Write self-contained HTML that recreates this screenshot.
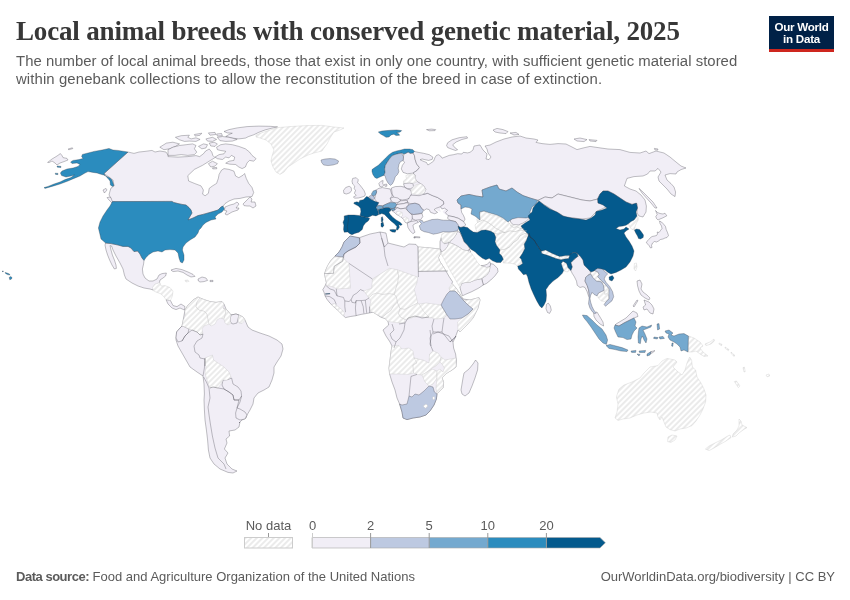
<!DOCTYPE html>
<html lang="en">
<head>
<meta charset="utf-8">
<title>Local animal breeds with conserved genetic material, 2025</title>
<style>
html,body{margin:0;padding:0;background:#fff;}
body{width:850px;height:600px;position:relative;overflow:hidden;font-family:"Liberation Sans",sans-serif;}
#title{position:absolute;left:16px;top:16px;font-family:"Liberation Serif",serif;font-weight:bold;font-size:27px;line-height:30px;color:#373737;white-space:nowrap;letter-spacing:-0.16px;}
#subtitle{position:absolute;left:16px;top:52.3px;font-size:14.9px;line-height:18px;color:#5b5b5b;white-space:nowrap;}
#logo{position:absolute;left:769px;top:16px;width:65px;height:33px;background:#002147;border-bottom:3px solid #ce261e;color:#fff;font-weight:bold;font-size:11.6px;line-height:12px;text-align:center;letter-spacing:-0.25px;}
#logo span{display:block;}
#footer-l{position:absolute;left:16px;top:569px;font-size:13px;line-height:16px;color:#5b5b5b;white-space:nowrap;}
#footer-r{position:absolute;right:15px;top:569px;font-size:13px;line-height:16px;color:#5b5b5b;white-space:nowrap;}
svg{position:absolute;left:0;top:0;}
svg text{font-family:"Liberation Sans",sans-serif;}
</style>
</head>
<body>
<div id="title">Local animal breeds with conserved genetic material, 2025</div>
<div id="subtitle"><span style="letter-spacing:0.03px">The number of local animal breeds, those that exist in only one country, with sufficient genetic material stored</span><br><span style="letter-spacing:0.11px">within genebank collections to allow the reconstitution of the breed in case of extinction.</span></div>
<div id="logo"><span style="margin-top:4.5px">Our World</span><span>in Data</span></div>
<svg id="map" width="850" height="600" viewBox="0 0 850 600">
<defs>
<pattern id="hatch" patternUnits="userSpaceOnUse" width="4" height="4" patternTransform="rotate(45)">
<rect width="4" height="4" fill="#fff"/>
<rect x="1" y="0" width="2" height="4" fill="#ebebeb"/>
</pattern>
</defs>
<g id="land" stroke="#30303a" stroke-opacity="0.6" stroke-width="0.5" stroke-linejoin="round">
<path d="M372.5,195.4 378.2,188.3 392.3,188.3 406.5,185.5 415,177 429.2,177 450,181.2 450,219.5 429.2,213.8 422.1,220.9 415,223.7 409.3,226.6 403.7,219.5 396.6,213.8 390.9,209.6 378.2,206.7Z" fill="#f1eef6" stroke="none"/>
<path d="M419.2,220.8 418.7,216.7 420.8,212.5 424.2,209.7 430,208.3 434.2,208 436.7,210.3 440.8,212 440,209.2 440.8,206.3 445,205 447.5,206.7 445,209.2 442.5,211.7 445,214.2 448.7,216.2 450.3,220.3 443.3,220.7 436.7,219.8 430,219.5 423.3,220.7 420,223Z" fill="#fff" stroke="none"/>
<path d="M529.2,233.3 526.6,240 532.6,242.8 537,245 541.1,251.3 543.9,249.9 539,241.4 534,235 530.5,231.5Z" fill="#045a8d" stroke="none"/>
<path d="M47.6,162.4 52,159 57,156 60.4,153.6 62,155.6 63,157.6 67,158.4 68,160 64,161.6 60,163 57,165 55,163 52,161 49,162.6Z" fill="#f1eef6"/>
<path d="M68,149 72.4,147.8 72.8,148.6 68.8,149.8Z" fill="#f1eef6"/>
<path d="M107,197.6 110,197 114,201 115,204 112,203 109,200Z" fill="#f1eef6"/>
<path d="M103,190 106,188.4 107,190 104.4,193Z" fill="#f1eef6"/>
<path d="M105.6,243 111,243.6 118,245 123,246.4 128,246.4 131,248 134,251.6 137.6,251 140,254 142,258 144,260.4 143.6,264 142.4,269 143,274 145,278 149,281 153,281 157,279 159,275 162,273.6 166.4,273 165.6,276 163,278 160,280 159,284 157,284 155,286 153,290 150,289 144,288 138,286 132,283 126,279 124.4,275 123,269 120,263 116,256 113,250 111.6,246 110,245.6 111,250 112.4,255 114.4,260 116,265 116.4,268.4 114.4,269 112,265 109.6,260 107.6,255 106,250 105,245Z" fill="#f1eef6"/>
<path d="M171,270 176,268.4 182,269.6 188,272 193,274.4 195,276.4 191,277 187,275 183,272.4 178,271 173,271.6Z" fill="#f1eef6"/>
<path d="M198,279 202,277 206,278 207.6,280.4 204,281.6 200,282 198.4,281Z" fill="#f1eef6"/>
<path d="M210,280.4 213,280.4 213,281.6 210,281.6Z" fill="#f1eef6"/>
<path d="M166,299.6 170.4,300.4 173,305.6 177,306.6 181,304 185,306.6 184.4,310 180,308 176,309.6 172,308 168,304Z" fill="#f1eef6"/>
<path d="M185,310 188,305 193,300 198,297 200,298 204,299.6 210,301.6 216,302.4 222,301.6 224,304 226,309 229,312.4 231,315 236,314 239,315 243,317 245,320 248,327 252,330 260,333 269,336 277,340 282,344 283,349 281,356 277,362 274,367 274,373 272,380 269,387 264,390 258,393 254,398 253,404 250,410 247,415 246,418 242,420 239,423 240,422 239,427 235,430 229,431 229.6,436 226,439 227,443 224.4,449 228,453 225,458 227,464 232,469 237,471 233,473 228,472.4 220,469 214,464 210,458 208.4,450 207.6,440 206.4,430 205,420 204.4,410 204,400 204.4,394 204,384 203,376 197,372 190,367 186,360 182,353 178,346 176,340 176,338 176.6,332 180,328 182,326 183,321Z" fill="#f1eef6"/>
<path d="M231,315 236,314 239,315 238,319 237,323 233,324 231,323 230,320Z" fill="#f1eef6"/>
<path d="M176.6,332 180,328 182,326 185,327 189,329 188,333 185,336 182,341 178,342 176,338Z" fill="#f1eef6"/>
<path d="M223,380 228,379.6 231.6,378 233,384 238,387 241,391 241.6,396 239,400 234,400 233,395 229,392 224,389 222,385Z" fill="#f1eef6"/>
<path d="M237,408 240,409 245,412 247,415 245,419 240,420 236,418 235.6,413Z" fill="#f1eef6"/>
<path d="M128,152 134,153.4 139,152 145,151.4 152,150.4 155,152 160,151 166,152 168,155 168,156.6 177.9,157.1 187.8,156.6 196,155.6 199.6,156.6 203.4,153.8 205.6,151 209.2,149 211.8,152.1 212.8,155.4 215,157.6 209.2,161.2 202.6,165.3 194.4,169.4 187.8,175.7 188.6,181 194.4,183.4 201,185.9 203.4,190 202.6,194.1 205.1,195.8 208.4,193.3 209.2,188.4 212.5,185.9 216.6,183.4 218.3,178.5 219.1,174.4 221.5,170.2 224,168.6 229,169.4 233.9,171.1 235.6,176 238.8,177.7 243,175.2 244.6,173.5 246.3,178.5 248.7,183.4 252,187.5 253.7,192.5 252,196.6 246,197 240,198.4 234,199 229,201 225,203.6 223,206.4 221,207 218,210 213,211.6 208,213 203,214.4 198,215.6 193,218 188,220 189,218 192,213 191,210 189,207.6 186,205 182,204.4 178,203.6 173.6,202.4 172,201.4 112.4,201.6 111,198 109,195 110,191 111,188 114,186 113,180 109,177 104,173.6Z" fill="#f1eef6"/>
<path d="M225,207 230,205 234,204 237,202 239,204 236,208 239,208 238,210 232,212 227,215 225,214 227,211 224.4,210.4Z" fill="#f1eef6"/>
<path d="M243,204 247,200 250,197 252,199 251,202 255,202 256,206 253,208 250,206 247,206 244,205.6Z" fill="#f1eef6"/>
<path d="M216.6,147.2 220.7,144.7 225.7,143.9 232.3,144.7 238.8,146.4 245.4,148.8 249.6,152.1 252,155.4 256.1,158.7 253.7,161.2 249.6,160.4 247.1,162.8 245.4,167 242.1,168.6 238.8,167 235.6,164.5 229.8,164.2 225.7,163.2 229,161.2 233.9,160.4 234.7,157.1 231.4,155.4 229,157.9 225.7,157.1 222.4,159.5 217.4,158.7 215,157.1 219.1,154.6 224,153.8 225.7,151.3 220.7,150.5 217.4,149.7Z" fill="#f1eef6"/>
<path d="M224,131.5 229,129.6 237.2,127.9 247.1,126.6 258.6,126.1 270.1,126.3 277.6,126.9 271.8,128.2 265.2,129.9 258.6,132.4 253.7,134.8 248.7,136.5 245.4,138.1 238.8,138.9 232.3,138.1 225.7,136.5 229,134.5 232.3,133.2 227.3,132.9Z" fill="#f1eef6"/>
<path d="M159.8,147.2 166.4,143.1 172.9,142.2 179.5,143.9 175.4,146.4 169.7,148.8 163.9,149.7Z" fill="#f1eef6"/>
<path d="M168,149.7 172.9,147.2 179.5,145.5 186.1,144.7 192.7,143.9 196,145.5 194.4,148.8 196.8,152.1 194.4,154.6 187.8,155.4 181.2,154.6 174.6,155.4 168,155.4Z" fill="#f1eef6"/>
<path d="M198.5,146.4 203.4,143.9 207.5,144.7 205.9,148 201.8,148.8Z" fill="#f1eef6"/>
<path d="M217.4,137.3 222.4,136.5 229,137.3 237.2,139.4 232.3,141.1 225.7,141.4 219.9,140.6Z" fill="#f1eef6"/>
<path d="M175.4,137.3 181.2,135.7 189.4,135.2 187.8,137.3 191.1,138.9 196,137.8 200.1,139.4 196,141.4 189.4,141.1 184.5,141.4 179.5,139.8Z" fill="#f1eef6"/>
<path d="M194.4,134.5 201.8,133.2 200.1,135.2 195.2,136.1Z" fill="#f1eef6"/>
<path d="M208.4,132.9 215,132.4 215.8,134.5 210,135.2Z" fill="#f1eef6"/>
<path d="M216.6,134 221.5,133.5 222.4,135.7 217.4,136.1Z" fill="#f1eef6"/>
<path d="M205.9,138.9 212.5,137.3 216.6,139.4 212.5,141.4 207.5,141.1Z" fill="#f1eef6"/>
<path d="M209.2,143.1 214.1,142.2 217.4,143.9 215,146.4 210.8,146Z" fill="#f1eef6"/>
<path d="M208.4,163.7 212.5,161.2 217.4,163.7 215,166.1 210.8,167Z" fill="#f1eef6"/>
<path d="M212.5,167.8 216.6,167.4 216.8,168.8 212.8,168.9Z" fill="#f1eef6"/>
<path d="M376,190 378.9,188.3 382.4,187.6 385.9,188.3 390.2,189 391.2,192.6 392.3,196.1 390.2,198.2 391.6,201.1 389.5,202.5 386.7,203.9 383.1,205.6 378.9,205.6 376,206.7 377.5,202.5 374.6,199 375.6,194.7 376.7,191.9Z" fill="#f1eef6"/>
<path d="M352.7,178.4 356.2,177.7 358.3,179.8 357.6,182.7 359.7,184.8 361.9,187.6 364,190.5 365.4,194 364.7,196.1 361.9,197.1 358.3,198 354.8,198.2 353.4,197.1 356.2,195.4 354.4,193.3 355.5,190.5 354.1,188.3 354.8,186.2 352.7,184.1 352,181.2Z" fill="#f1eef6"/>
<path d="M343.5,190.5 345.6,187.6 349.1,186.2 351.2,187.6 351.5,190.5 349.8,192.9 346.3,194 343.9,193.3Z" fill="#f1eef6"/>
<path d="M378.9,183.4 381,181.2 383.1,180.5 382.7,183.4 383.8,185.5 381.7,186.9 379.6,186.2Z" fill="#f1eef6"/>
<path d="M384.5,184.4 386.7,184.1 386.9,186.2 385,186.3Z" fill="#f1eef6"/>
<path d="M403.5,156.8 403.8,154 405.9,153.3 408.1,151.9 410.2,153.3 413,152.9 414.4,155.4 415.2,159.7 416.6,163.9 419.4,167.5 417.3,170.3 413,173.1 407.4,173.8 403.1,172.4 401.3,168.9 402.4,165.3 404.5,162.5 403.1,160.4Z" fill="#f1eef6"/>
<path d="M426.5,129.6 431.4,129.1 435.7,129.6 435,130.6 429.3,130.8Z" fill="#f1eef6"/>
<path d="M447.7,142.7 452,139.8 459.1,137.7 466.9,136.7 467.6,138.1 461.9,139.5 456.2,142 452.7,144.8 454.8,147.6 457.6,149.7 455.5,150.5 451.3,149 447.7,147.6 446.6,145.5Z" fill="#f1eef6"/>
<path d="M403.5,183.7 405.9,183.3 409.5,183 413,183.7 413.5,186.6 410.9,188.7 407.4,188.7 404.5,186.9Z" fill="#f1eef6"/>
<path d="M391.4,188 395.3,186.6 401,186.3 404.5,187.3 407.4,189 410.9,190.1 411.6,193.7 410.2,197.9 406.7,199.3 402.4,200 398.2,199.3 393.9,197.9 392.2,193.7Z" fill="#f1eef6"/>
<path d="M390.2,198.2 393.7,197.1 398,198 400.8,200.4 398,202.5 394.4,202.8 391.6,201.4Z" fill="#f1eef6"/>
<path d="M398,202.5 400.8,200.8 406.5,200.4 407.9,201.8 403.7,203.6 399.4,204.2 396.6,204.6Z" fill="#f1eef6"/>
<path d="M396.6,204.6 399.4,204.2 403.7,203.6 407.9,202.5 408.6,205.3 405.1,208.2 400.8,208.9 397.3,207.5 395.2,207.5Z" fill="#f1eef6"/>
<path d="M411.4,214.5 417.8,214.1 422.1,213.5 422.8,216.7 420.7,219.5 415.7,220.2 412.2,218.8Z" fill="#f1eef6"/>
<path d="M408.6,199 410.7,195.1 415,195.4 419.2,195.7 423.5,194.3 427.7,193.3 432,195.4 437.6,197.5 443.3,201.1 444,203.9 440.5,206.7 436.2,208.2 434.1,209.6 437.6,212.4 434.8,213.8 430.6,212.4 429.2,209.6 426.3,208.9 424.2,210.3 421.4,208.2 419.2,204.6 415,203.2 410.7,203.9 407.9,202.5 407.2,200.4Z" fill="#f1eef6"/>
<path d="M392,210.7 394.9,209.9 397.3,207.9 400.8,208.9 405.1,208.2 407.2,210.3 410,213.1 412.2,215.2 412.2,218.8 410.7,221.6 407.2,223 405.1,222.3 403.7,219.5 401.5,217.4 399.4,215.9 396.6,214.5 394.4,212.4Z" fill="#f1eef6"/>
<path d="M407.2,223 410.7,221.6 416.4,220.6 418.5,222.3 415,223.7 412.9,225.2 413.6,228.7 415,232.2 412.9,233.7 410,230.8 407.9,227.3Z" fill="#f1eef6"/>
<path d="M414.3,236.5 419.9,236.9 419.8,237.8 414.6,237.5Z" fill="#f1eef6"/>
<path d="M413.6,237.6 415,237.3 415,238.2Z" fill="#f1eef6"/>
<path d="M414.4,151.4 418,152.3 423.7,153.3 429.3,154.7 432.9,157.1 432.2,159.4 428.6,160.4 425.1,159.7 422.2,159 420.1,159.7 422.9,161.1 426.5,162.5 427.9,165 430.7,163.2 433.6,161.1 435,157.5 436.4,155.4 438.5,154.7 440.7,156.1 442.1,158.2 444.9,157.1 449.2,155.4 453.4,154.7 457.6,153.7 461.9,154 463.3,152.3 467.6,152.9 470,152.3 473,150 474,146 480,145 483,150 487,154 486,159 489,159.6 491,157 488,153 487,149 485,146 490,145 496,142 504,139 512,137 520,136 526,138 534,139 538,140 536,142.4 542,143.6 550,144.4 558,143.6 566,144 572,147 577,149.6 583,148 590,146.4 598,147.6 608,149 620,149.6 630,152.4 640,153 646,151 649,153.6 656,151 664,153 670,157 676,162 681,166 686,168 681,169.6 677,172 676,174 670,173.6 665,175 667,180 671,183.6 674,187 675.6,192 675,196.6 671,194 667,189 663,185 659,181 658,177 661,172 658,168.4 655,171 650,171 647.6,174 643,176 634,176.6 627,178.4 624.4,186 630,189 636,191 641,195 645,200 646.4,206 646,212 643,217 639,216 637,213 637,209 637,203.6 632,204.4 626,202 620,198 614,194 608,191 603,191 600,194 597.6,199 590,201 582,200 574,198 566,196 558,194 552,198 545,197 538,200.4 530,198 523,195.6 517,192 512,188 506,191 499,189 497,185 490,187 482,190 483,197 476,196 469,194.4 461,196 457,200 458,203 461,205 461,209 461.7,212.5 463.7,215.8 465,219.2 463.7,221.7 458.3,218.3 453.3,216.7 448.3,215.8 445.4,212.7 447.6,210.3 444.7,208.2 441.9,208.9 440.5,206.7 444,203.9 443.3,201.1 437.6,197.5 432,195.4 427.7,193.3 423.5,194.3 425.8,189.4 423.7,185.9 420.8,183.7 417.3,181.6 414.9,178.4 415.2,175 413,173.1 417.3,170.3 419.4,167.5 416.6,163.9 415.2,159.7 414.4,155.4 413,152.9Z" fill="#f1eef6"/>
<path d="M493,130 497,128.4 503,129.6 508,131.6 506,133.6 500,133 495,132Z" fill="#f1eef6"/>
<path d="M510,133 516,132.4 519,134.4 514,135Z" fill="#f1eef6"/>
<path d="M574,139 580,138 587,139.6 584,141.6 577,141Z" fill="#f1eef6"/>
<path d="M589,139.6 597,140.4 596,141.6 590,141Z" fill="#f1eef6"/>
<path d="M654.4,148.4 658,149 657.6,150.2 654.8,149.8Z" fill="#f1eef6"/>
<path d="M639,188.4 643,192 648,197 653,202 657,208 655,208 651,203 646.4,198 642,193Z" fill="#f1eef6"/>
<path d="M538,200.4 545,197 552,198 558,194 566,196 574,198 582,200 590,201 598,199 598,203 603,204 607,206.4 602,209 597,211 594,214 590,218 582,219 574,218 566,217.6 560,214 554,211 548,207 543,204Z" fill="#f1eef6"/>
<path d="M659.5,221 661.5,222 663.5,224 665.5,226.5 666.2,229.5 667.5,232.5 668.5,235.5 667,237.5 665,238 663,239 660.5,239.5 658.5,241 656.5,242 654.5,241.5 652.5,243 651.5,245.5 652,247.5 650.5,248 649,245.5 647.5,244 646.2,242.2 648,240.5 650,238 652,236.5 654.5,236 656.5,235.5 657.5,234 657.2,232 659,232.5 660.5,230.5 662,228.5 661.5,226 660,223.5Z" fill="#f1eef6"/>
<path d="M655.5,210.5 657.5,212.5 660,213.5 663,214 665,213.2 666.8,215.8 664.5,217 662.5,218 660,219 658,220 656.5,218.5 655.8,216.5 657.2,214.5Z" fill="#f1eef6"/>
<path d="M546.5,304.4 548.2,303 550.3,305.9 551.3,310.1 549.6,313.4 547.5,312.5 546,308.7Z" fill="#f1eef6"/>
<path d="M570.8,270.5 572.2,266.9 570.8,262.7 574.4,259.1 577.9,256.3 580.7,254.9 582.9,258.4 583.6,262.7 586.4,266.2 589.9,270.5 590.7,273.3 587.8,275.4 585.7,277.5 585,281.1 587.1,285.3 588.5,289.6 589.2,293.8 589.9,298.1 588.5,295.9 587.1,291.7 585,287.5 582.9,286.7 580,287.5 577.2,285.3 576.5,281.1 574.4,276.8 572.2,273.3Z" fill="#f1eef6"/>
<path d="M510,219.7 515,217 520,216.2 526.7,216.2 530,217.5 526.7,220.8 522.5,223.3 518.3,225 513.3,224.7 510.8,222.5Z" fill="#f1eef6"/>
<path d="M448.3,215.8 453.3,216.7 458.3,218.3 463.7,221.7 465.8,225 463.7,226.7 460.8,227.5 458,226.3 455.8,221.7 450,220.3 447.5,218.3Z" fill="#f1eef6"/>
<path d="M457.5,231.3 460,232.5 462.5,237.5 464.2,241.7 467.5,245 470,249.2 467.5,250.8 463.3,250 458.3,246.7 453.3,244.2 449.2,242.5 453.3,238.3 455.8,235Z" fill="#f1eef6"/>
<path d="M440,241.7 441.3,237.5 441.7,240.8 444.2,243.7 449.2,242.5 447.5,246.7 445,250 441.7,252 440,248.3Z" fill="#f1eef6"/>
<path d="M467.5,250.8 469.7,249.7 470.8,252 469.2,253Z" fill="#f1eef6"/>
<path d="M480.8,265.8 484.2,265.3 487.5,264.2 489.7,261.7 490.8,264.2 490,266.7 486.7,267.5Z" fill="#f1eef6"/>
<path d="M490,266.7 490.8,263.7 493.3,264.2 497.5,268.3 498,271.7 495,275.8 490.8,280 486.7,283.3 483.3,285 481.7,278.7 486.7,275 489.2,271.7Z" fill="#f1eef6"/>
<path d="M461.7,283.3 465,282.5 469.2,282.5 475,280 481.7,278.7 483.3,285 478.3,288.3 471.7,291.7 465.8,294.2 462.5,295.8 460.8,290.8 460,287.5Z" fill="#f1eef6"/>
<path d="M651,351.6 655,350.6 653,352.4 650.4,354Z" fill="#f1eef6"/>
<path d="M616,324 621,321 626,318 630,314 633,311 637,313 638,316.4 634,318 630,320 624,323 619,326 615,325Z" fill="#f1eef6"/>
<path d="M593.6,313 597,312 600,317 603,322 603.6,326 600,324 596,320 594,316.4Z" fill="#f1eef6"/>
<path d="M637,281 640,280 642,284 641,289 643,292 647,295 650,298 649,300 645,298 641,295 639,291 637.6,286Z" fill="#f1eef6"/>
<path d="M644,300 649,302 652,305 654,309 653,314 650,313 647,309 644,310 643,307 645.6,305Z" fill="#f1eef6"/>
<path d="M633,306 637,300 638,300.6 634,307Z" fill="#f1eef6"/>
<path d="M334.2,257 339,252 342,247 344,242 347,239 350,236 355,237 359.6,237.6 370,234 380,232 386,233 387,238 388,243 396,245 404,247 409,244 416,244.4 418,247 426,247.6 434,248.4 439.6,249 440,250 440.8,253.3 438.3,257.5 440,261.7 443.3,266.7 445.8,270.8 449.2,276.7 452.5,281.7 452,283.6 456,288 460,294 463,299 470,300 479,297.6 480,300 478,308 473,318 466,326 460,332 458,330 455,338 450,342 456,336 453,342 453.6,348 455.6,354 456.4,360 456,367 452,370 447,373 442,378 443.6,382 443,388 439,392 437,394 436.4,399 434,405 430,411 426,415 420,417 413,418 407,419.6 403,418 402,412 399.6,404 397,398 395,390 392,382 389.6,374 389,368 390,360 391,352 392,346 390,342 386,336 383,330 388.7,325 388,321.4 385.2,318.6 380.9,317.2 376.7,314.4 373.1,312.2 369.6,312.9 365.3,313.7 361.1,314.4 355.4,315.8 350.5,316.5 345.5,317.6 343.4,315.8 340.5,312.9 337,309.4 333.5,306.6 329.9,303 327.1,299.5 325,295.9 324,292.4 322.8,289.6 325,286 326.4,282.5 325.4,278.2 324.5,274 325.9,269.7 327.8,265.5 329.9,262 332,259.1Z" fill="#f1eef6"/>
<path d="M461,390 462,384 463,378 464,373 469,369 473,364 475.6,360 478,363 477.6,370 475,378 472,386 469,393 465,396 462,394Z" fill="#f1eef6"/>
<path d="M185,280.4 188,280 189,281.4 186,282Z" fill="url(#hatch)" stroke="#bdbdbd"/>
<path d="M152.4,287.6 155,284 160,282.6 161,286 165,285.6 170,287.6 173,291 172.4,296 170.4,300.4 166,299.6 163.6,296.4 161,294 157,292.4 153.6,291Z" fill="url(#hatch)" stroke="#bdbdbd"/>
<path d="M185,310 188,305 193,300 198,297 200,298 197,302 196,307 199,310 204,311 207,314 208,319 209,324 204,326 202,329 203,334 200,335 197,332 192,330 189,329 185,327 182,326 183,321 185,316Z" fill="url(#hatch)" stroke="#bdbdbd"/>
<path d="M200,298 204,299.6 210,301.6 216,302.4 222,301.6 224,304 223,308 226,310 225,316 224,319 220,318 217,320 215,324 211,326 209,324 208,319 207,314 204,311 199,310 196,307 197,302Z" fill="url(#hatch)" stroke="#bdbdbd"/>
<path d="M223,308 226,309 229,312.4 231,315 230,320 231,323 228,325 225,323 224,319 225,316 226,310Z" fill="url(#hatch)" stroke="#bdbdbd"/>
<path d="M239,315 243,317 245,320 242,323.6 239,323 238,319Z" fill="url(#hatch)" stroke="#bdbdbd"/>
<path d="M205,358 212.4,355 213.6,360 218,363 224,367 229,372 231,377 227,380 223,380 221,384 218,388 213,387 210,388 208,383 206.4,378 205,373 206,367 205,363Z" fill="url(#hatch)" stroke="#bdbdbd"/>
<path d="M256,135 261,133 270,130 278,127.6 290,126.6 306,125.6 322,125.4 334,127 344,128 340,130 334,132 330,138 327,144 324,148 322,151 314,153 308,155 300,159 294,163 288,167 284,172 280,174.4 276,172 273,167 271,161 272,156 274,150 271,144 266,140 260,138 256,137Z" fill="url(#hatch)" stroke="#bdbdbd"/>
<path d="M405.9,175.5 410.2,174.5 415.2,175 414.9,178.4 417.3,181.6 413.7,183.5 409.5,182.6 405.9,183 403.5,183 403.5,180.9 406.4,178.8Z" fill="url(#hatch)" stroke="#bdbdbd"/>
<path d="M413.5,186.6 416.6,184.4 420.8,183.7 423.7,185.9 425.8,189.4 424.4,192.9 420.8,194.4 415.9,194.4 411.6,193.7 410.9,190.1Z" fill="url(#hatch)" stroke="#bdbdbd"/>
<path d="M396.3,211.7 399.4,211.3 402.2,212.4 402.5,215.5 400.8,216.9 398.7,215.5 396.9,213.8Z" fill="url(#hatch)" stroke="#bdbdbd"/>
<path d="M402.9,217.8 405.8,216.9 408.2,218.4 408.8,221.6 406.5,222.6 404.4,221.2Z" fill="url(#hatch)" stroke="#bdbdbd"/>
<path d="M634.4,263.6 636.4,263 637,267 635.6,271 634,269Z" fill="url(#hatch)" stroke="#bdbdbd"/>
<path d="M628.5,224 631,221.2 634,219.7 636,218.2 638,216.5 638.2,220 636.5,223 635.2,226 634.7,228.8 635,230 633,229.8 630.8,228.5 629.5,226.2Z" fill="url(#hatch)" stroke="#bdbdbd"/>
<path d="M561.6,256.3 565.9,255.6 568.7,257 568,259.1 564.4,259.1 562,258.4Z" fill="url(#hatch)" stroke="#bdbdbd"/>
<path d="M541,251 545.6,249.6 552.4,253.2 559.6,256 560.4,260 554,260 547.6,257.6 542.4,254.8Z" fill="url(#hatch)" stroke="#bdbdbd"/>
<path d="M561.2,263.4 563,261.2 566.6,263.4 568,267.6 569.4,270.5 567.3,271.9 564.4,271.2 563,267.6Z" fill="url(#hatch)" stroke="#bdbdbd"/>
<path d="M590.7,273.3 594.2,270.5 597.7,271.9 599.2,274.7 597.7,276.8 601.3,280.4 605.5,284.6 609.1,288.9 607.6,293.1 604.8,294.5 604.1,290.3 603.4,285.3 601.3,281.8 596.3,281.1 592.8,277.5Z" fill="url(#hatch)" stroke="#bdbdbd"/>
<path d="M598.4,293.1 601.3,291.7 604.1,290.6 604.8,294.5 607.6,293.5 608.8,295.9 608.4,299.5 604.8,301.6 601.3,300.9 598.4,298.1 597.5,295.9Z" fill="url(#hatch)" stroke="#bdbdbd"/>
<path d="M479.2,212.5 482.5,210.8 486.7,212.5 491.7,215 496.7,215.8 501.7,218.3 506.7,220.8 509.2,223.3 511.7,225 516.7,225 521.7,226.3 524.2,229.2 526.7,230.8 529.2,233.3 528.3,235.8 525,237.5 529.2,233.3 526.6,240 524.2,244.2 524.9,248.4 522.5,253.3 519.7,257.6 521.2,259.1 522.7,263.4 519.8,265.5 517.7,266.2 515,264.2 510.8,263.3 506.7,263 503.3,263 503.3,259.2 501.7,255.8 499.2,253.3 500,250 496.7,245.8 495,241.7 495.8,237.5 494.2,233.3 490.8,231.3 485.8,230 481.7,230.3 477.5,232.5 475.8,229.2 475,225 477.5,222.5 476.7,219.2 479.2,216.7Z" fill="url(#hatch)" stroke="#bdbdbd"/>
<path d="M441.7,234.2 445,232.5 452.5,231.7 457.5,231.3 455.8,235 453.3,238.3 448.3,241.7 444.2,243.3 441.7,240.8 441.3,237.5Z" fill="url(#hatch)" stroke="#bdbdbd"/>
<path d="M441.7,252 445,250 447.5,246.7 449.2,242.5 453.3,244.2 458.3,246.7 463.3,250 467.5,250.8 471.7,253.3 475,258.3 477.5,262.5 480.8,265.8 486.7,267.5 490,266.7 489.2,271.7 486.7,275 481.7,278.3 475,280 469.2,282.5 465,282.5 461.7,283.3 460,287.5 457.5,283.3 454.2,277.5 450.8,271.7 447.5,265.8 444.2,259.2 441.7,255Z" fill="url(#hatch)" stroke="#bdbdbd"/>
<path d="M688.4,336 694,338 700,342 703,346 700,348 703,352 708,356 704,356.4 700,354 696,351 692,352 688,352Z" fill="url(#hatch)" stroke="#bdbdbd"/>
<path d="M705,344 710,342 714,339 714.4,341 711,344 706,345.6Z" fill="url(#hatch)" stroke="#bdbdbd"/>
<path d="M719,343 722,344.4 721.6,345.6 719.2,344.4Z" fill="url(#hatch)" stroke="#bdbdbd"/>
<path d="M725,347 729,349.6 728.4,350.6 725.2,348.4Z" fill="url(#hatch)" stroke="#bdbdbd"/>
<path d="M731,352 735,355.6 734,356.4 731.2,353.6Z" fill="url(#hatch)" stroke="#bdbdbd"/>
<path d="M615,418 617,412 618,404 616.4,397 619,389 624,385 632,382 640,378 644,373 650,367 658,365.6 662,361 667,358.4 675,360 677,362 673,367 677,371 682,375 685,370 687,363 689.6,357 691.6,360 692.4,367 695.6,370 697,377 701,383 704,389 706,395 705.6,402 703,409 700,415 696,421 692,425.6 686,428 680,429 675,431 670,429.6 666,427 664,422 662,417 660,420 658,417 657,413 651,412 644,413 637,415 630,418 623,419 618,420.4Z" fill="url(#hatch)" stroke="#bdbdbd"/>
<path d="M668,437 672,435 677,436 675,440 671,442.4 667.6,441.6Z" fill="url(#hatch)" stroke="#bdbdbd"/>
<path d="M739,419 741,421 742,425 747,427.6 743,430 739,433 736,436 732.4,437 733,434 737,430 739,426Z" fill="url(#hatch)" stroke="#bdbdbd"/>
<path d="M730,435 731,437.6 726,441 720,444.4 714,448 709,450.6 705.4,449 709,446 715,443 722,439.6 727,436.4Z" fill="url(#hatch)" stroke="#bdbdbd"/>
<path d="M734.4,381.6 736.4,381 740,386 738.4,387.6Z" fill="url(#hatch)" stroke="#bdbdbd"/>
<path d="M743,367.6 744.4,367.2 745.2,371.6 744,372Z" fill="url(#hatch)" stroke="#bdbdbd"/>
<path d="M766,375 769,374 769.6,376 767,376.8Z" fill="url(#hatch)" stroke="#bdbdbd"/>
<path d="M334.2,257 343.4,257 344.1,259.1 349,263.4 350.5,288.2 337,288.9 334.2,287.5 329.9,286 326.4,286 326.4,282.5 325.4,278.2 324.5,274 325.9,269.7 327.8,265.5 329.9,262 332,259.1Z" fill="url(#hatch)" stroke="#bdbdbd"/>
<path d="M372.4,279 389.4,268.3 397.2,269.7 398.6,275.4 397.9,282.5 395.8,288.9 394.4,294.5 389.4,293.8 382.3,294.5 376.7,293.1 372.4,294.5 368.9,298.1 367.5,295.9 363.9,291 371.7,288.2Z" fill="url(#hatch)" stroke="#bdbdbd"/>
<path d="M397.2,269.7 417.7,277.1 417,282.5 414.2,289.6 416.3,296.7 417.7,303 410.7,306.6 405,309.4 400,308.7 397.2,302.3 396.5,297.4 394.4,294.5 395.8,288.9 397.9,282.5 398.6,275.4Z" fill="url(#hatch)" stroke="#bdbdbd"/>
<path d="M372.4,294.5 376.7,293.1 382.3,294.5 389.4,293.8 394.4,294.5 396.5,297.4 397.2,302.3 393.7,305.9 390.8,310.8 386.6,313.7 382.3,317.2 376.7,314.4 373.1,312.2 370.3,311.5 369.6,306.6 371,300.9 368.9,298.1Z" fill="url(#hatch)" stroke="#bdbdbd"/>
<path d="M397.2,302.3 400,308.7 398.6,313.7 400.7,317.2 405,319.3 405,322.2 399.3,322.9 393.7,322.2 388,321.4 385.2,318.6 382.3,317.2 386.6,313.7 390.8,310.8 393.7,305.9Z" fill="url(#hatch)" stroke="#bdbdbd"/>
<path d="M400,308.7 405,309.4 410.7,306.6 417.7,303 422,306.6 427.6,310.8 433.3,316.5 430.5,317.9 424.8,317.2 419.2,316.5 413.5,317.2 407.8,319.3 405,319.3 400.7,317.2 398.6,313.7Z" fill="url(#hatch)" stroke="#bdbdbd"/>
<path d="M418,247 426,247.6 434,248.4 439.6,249 440,250 440.8,253.3 438.3,257.5 440,261.7 443.3,266.7 445.8,270.8 418.4,271.4Z" fill="url(#hatch)" stroke="#bdbdbd"/>
<path d="M419,304 426,303 434,304 441,305 444,310 447,315 444,318 436,319 429,317 424,312Z" fill="url(#hatch)" stroke="#bdbdbd"/>
<path d="M449,288 452,283.6 456,288 460,294 463,299 459,295 455,291 450,291Z" fill="url(#hatch)" stroke="#bdbdbd"/>
<path d="M463,300 470,300 479,297.6 480,300 478,308 473,318 466,326 460,332 458,330 457.6,322 462,318 468,314 473,309 468,305Z" fill="url(#hatch)" stroke="#bdbdbd"/>
<path d="M331.3,304.4 334.2,303.5 336.7,305.4 339.5,307.7 342.4,310.1 344.4,312.9 343.8,316.2 340.5,312.9 337,309.4 333.5,306.6Z" fill="url(#hatch)" stroke="#bdbdbd"/>
<path d="M392,346 399,345.6 402,349 409,348 413,351 414,358 418,359 417,363 413,365 413.6,373 408,374.4 400,374 389.6,374 389,368 390,360 391,352Z" fill="url(#hatch)" stroke="#bdbdbd"/>
<path d="M414,358 418,359 423,360 429,363 429.6,354 433,351 438,353 441,357 440,362 436,366 432,368 427,372 422,375 417,374.4 413.6,373 413,365 417,363Z" fill="url(#hatch)" stroke="#bdbdbd"/>
<path d="M422,375 427,372 432,369 437,371 437,378 433,384 429,386 425,382Z" fill="url(#hatch)" stroke="#bdbdbd"/>
<path d="M441,357 445,360 456,358 456,367 452,370 447,373 442,378 443.6,382 443,388 439,392 437,394 436,388 437,378 437,371 440,369 443,372 444.4,368 442,364 440,362Z" fill="url(#hatch)" stroke="#bdbdbd"/>
<path d="M128,152 118,150.4 113,150 109,148.4 102,150 94,151.4 88,153 82.4,154.4 81.6,156.4 83,158.4 79,159.6 73,160.4 70.6,162 72,163.6 77,163 80,164.4 78,166.4 73,168 67,169 62,171 60.4,173 61.6,175.6 66,177 71,176 74.4,175 71,177.6 65,179.6 60,182 54,184 48,186.4 44,187.6 45,188.4 52,186.4 60,184 68,181 74,178.4 80,176 85,173 88,171.6 93,172.4 97,173 100,174 103.6,175 107,176.6 110,178 112,180 113,183 114,185.6 112.4,186.4 110.4,185 110,181 108,178.4 105.6,176 104,173.6Z" fill="#2b8cbe"/>
<path d="M57,166 61,166.4 61,167.4 57.4,167.2Z" fill="#2b8cbe"/>
<path d="M55.2,173.2 58,173.4 58,174.6 55.6,174.4Z" fill="#2b8cbe"/>
<path d="M112.4,201.6 172,201.4 173.6,202.4 178,203.6 182,204.4 186,205 189,207.6 191,210 192,213 189,218 188,220 193,218 198,215.6 203,214.4 208,213 213,211.6 218,210 221,207 223,206 224.4,209 222,212 218,214 215,217 216,219 211,220 206,222.4 203,225 201,228 199,230 198,233 195,237 190,240 186,243 183,247 182.4,250 184,255 184,260 182.4,263 180.4,262 179,258 178,253 175,250 170,249.6 165,250 162,252 158,251 153,252 149,254.4 146,257.6 144,260.4 142,258 140,254 137.6,251 134,251.6 131,248 128,246.4 123,246.4 118,245 111,243.6 105.6,243 101,239 99.6,233 98.4,228 100,222 103,216 107,210 110,206Z" fill="#2b8cbe"/>
<path d="M321,160 325,159 330,158.6 335,159 338.6,161 337.6,163.6 333,165 328,165.6 323.6,165 321.6,162.4Z" fill="#bdc9e1"/>
<path d="M344.2,215.9 348.4,215 354.1,215 359,215.5 363.3,216.7 367.5,217.4 369.7,218.4 368.2,220.9 365.4,223 363.3,225.9 362.3,229.4 359,232.2 354.8,233.4 352,234.8 349.8,233.7 347.7,232 344.2,232.2 343.5,229.4 343.9,225.2 343,222.3 344.2,219.5Z" fill="#045a8d"/>
<path d="M354.1,202.5 356.9,201.8 359,202.5 359.7,200.4 363.3,199.7 366.5,196.5 368.2,197.1 370.4,199 373.2,200.4 376,201.8 378.9,202.5 377.5,205.3 376,207.5 377.5,209.6 378.2,212.4 378.9,214.5 376,215.9 372.5,215.2 369.7,216.7 367.5,217.4 363.3,216.7 360,215.5 360.9,211.7 360.5,208.2 358.3,206 355.5,204.6 353.8,203.6Z" fill="#045a8d"/>
<path d="M381.3,217.4 382.4,216.7 383.1,219.5 382.4,222.3 381.3,221.6Z" fill="#045a8d"/>
<path d="M378.2,209.6 380.3,208.9 383.1,208.2 385.9,207.5 388.8,207.5 390.9,208.9 390.6,211 388.8,212.1 390.2,214.5 393,217.4 396.6,220.2 400.1,222.3 402.2,224.4 400.8,225.4 398.7,224.4 399.4,227.3 397.7,230.1 396.3,229.4 396.9,226.6 394.4,223.7 390.9,220.9 387.4,217.4 384.5,214.5 381.7,213.5 379.6,214.5 378.4,212.4Z" fill="#045a8d"/>
<path d="M389.8,229.7 393,229.4 396.3,229.7 395.2,232.2 392.3,232 390.2,230.8Z" fill="#045a8d"/>
<path d="M381,223 383.1,222.3 383.8,225.2 382.7,227.3 381,226.6Z" fill="#045a8d"/>
<path d="M376,206.7 378.9,205.6 382.4,206 383.1,208.2 380.3,208.9 378.2,209.6 376.7,208.9Z" fill="#74a9cf"/>
<path d="M383.1,205.6 386.7,203.9 390.9,202.5 395.2,202.8 396.6,204.6 395.2,207.5 392.3,208.9 388.8,207.5 385.9,207.5 383.1,207.9Z" fill="#74a9cf"/>
<path d="M390.9,208.9 392.3,208.9 395.2,207.9 394.9,209.9 392,210.7Z" fill="#74a9cf"/>
<path d="M371.4,194 373.2,190.9 376,190 376.7,191.9 375.6,194.7 373.6,196.1 372.2,195.4Z" fill="#74a9cf"/>
<path d="M369,196.5 371.4,195.1 373.6,196.1 374.6,198.2 373.2,199.7 370.8,199Z" fill="#bdc9e1"/>
<path d="M372,169.6 374.8,167.5 378.3,165.3 381.9,161.8 385.4,158.2 389,154.7 392.5,152.3 396.7,150.9 401,150 404.5,149 409.5,149 413,149.7 414.4,151.4 413,152.9 410.2,153.3 408.1,151.9 405.9,153.3 403.8,154 401.7,152.9 398.2,153.7 394.6,154.7 391.8,156.1 389.4,159 387.1,162.5 385.4,165.3 384.7,168.9 385.1,172.4 384,175.2 380.5,176.7 376.9,178.4 374.8,177.4 372.9,174.5 372,171.7Z" fill="#2b8cbe"/>
<path d="M385.4,165.3 387.1,162.5 389.4,159 391.8,156.1 394.6,154.7 398.2,153.7 401.7,153.3 403.5,156.8 403.1,160.4 400.3,161.8 398.9,164.6 398.2,168.2 398.9,171.7 397.5,174.5 395.3,176.7 394.2,180.2 392.5,183.7 390.4,185.4 388,183 386.1,179.5 385.1,175.9 384,175.2 385.1,172.4 384.7,168.9Z" fill="#bdc9e1"/>
<path d="M378.3,132 381.9,131 386.8,130.6 391.1,130.2 396.7,129.9 401.7,130.6 400.3,132 396.7,132.7 398.9,133.9 399.6,135.3 396,135.6 393.9,134.2 391.1,134.9 389,137 386.1,137.3 383.3,135.6 380.5,133.9Z" fill="#2b8cbe"/>
<path d="M407.2,206 410.7,203.9 415,203.2 419.2,204.6 421.4,208.2 423.5,210.3 422.1,213.1 417.8,213.8 413.6,214.5 410,213.1 407.2,210.3 406.5,208.2Z" fill="#bdc9e1"/>
<path d="M419.2,220.9 422.1,220.2 423.5,222.3 427.7,220.9 432,219.5 437.6,219.2 443.3,220.2 450,220.3 455.8,221.7 458.3,225 458.7,228.3 457.5,230.8 452.5,231.7 448.3,232 443.3,231.7 438.3,233.3 433.3,234.2 428.3,232.5 424.2,231.7 420.8,230 419.2,225.9 421.4,223.7Z" fill="#bdc9e1"/>
<path d="M457,200 461,196 469,194.4 476,196 483,197 482,190 490,187 497,185 499,189 506,191 512,188 517,192 523,195.6 530,198 538,200.4 535,205 532,207 530,212 532,217 526,218 518,217.6 512,219 508,222 503,218 497,215 490,213 484,211 479.6,212 480,220 475,216 471,214 472,209 469,207.6 465,207 461,209 461,205 458,203Z" fill="#74a9cf"/>
<path d="M539,201 544,205 550,209 557,212 563,216 572,218 580,219 586,220 591,218 595,215 596,211.6 602,210 607,208 603,205 598,203 597.6,199 600,194 603,191 608,191 614,194 620,198 626,202 632,204.4 636.4,203 637.6,208 636,212 637,216 634,220 631,221.4 628.4,223.8 626,225.2 623,226 619,226.6 616,228.4 620,230 624,229 626,227 629,229 626,231 624,233 626,237 629,241 632,246 634,251 633,256 630,262 626,267 621,270 616,272.4 611,274 608,272.4 605,270 601,269 597,269 594,271 591,272 587,268 584,265 583,260 580,256 577,253 573,252.4 570,255.6 565.8,255.6 561.6,256.2 559.6,256.4 552.4,253.6 545.6,250 541,251.2 537,245 534,240 530,237 527,233 523,229 521,226 525,223 530,220 528,216 532,212 533,208 536,204Z" fill="#045a8d"/>
<path d="M609,277 612.4,275.6 614,278 612,281 609.4,280Z" fill="#045a8d"/>
<path d="M634.5,230 636.5,229 639.5,229.5 641.5,232 643.5,235 643.2,237.5 640.5,239 638.5,238.5 637.5,236 636,233.5 635,231.5Z" fill="#045a8d"/>
<path d="M529.2,233.3 526.6,240 524.2,244.2 524.9,248.4 522.5,253.3 519.7,257.6 521.2,259.1 522.7,263.4 519.8,265.5 517.7,266.2 518.4,269 521.2,271.9 523.4,274.7 526.2,274 527.6,276.8 529,282.5 531.2,288.9 534,295.2 536.8,300.9 539.7,305.9 541.8,308 543.9,305.2 546,300.9 546.5,295.2 546,289.6 548.9,285.3 553.1,281.1 558.1,277.5 562.3,273.3 563.7,270.5 562.3,266.9 561.2,263.4 563,261.2 566.6,263.4 568,267.6 570.8,270.5 572.2,266.9 570.8,262.7 574.4,259.1 577.9,256.3 577.6,253.5 573.7,252.5 570.1,254.2 568.7,258.4 564.4,259.1 560.9,259.8 555.9,258.4 548.2,255.6 541.8,253.5 541.1,251.3 537,245 534,240 530,237Z" fill="#045a8d"/>
<path d="M585.7,277.5 587.8,275.4 590.7,274 592.8,277.5 596.3,281.1 601.3,281.8 603.4,285.3 604.1,290.3 601.3,291.7 598.4,293.1 597,295.9 594.2,294.5 592.1,292.4 590.7,295.2 589.9,298.1 590.7,302.3 592.1,306.6 594.2,310.8 596.3,312.9 594.9,313.7 592.1,311.5 589.9,308 588.5,303.7 589,299.5 589.2,293.8 588.5,289.6 587.1,285.3 585,281.1Z" fill="#bdc9e1"/>
<path d="M594.2,270.5 597.7,268.3 602,269 605.5,271.9 607.6,274 605.5,276.1 604.1,279 606.2,282.5 609.8,286.7 612.6,291.7 613.7,296.7 611.9,300.9 608.4,303.7 605.5,306.3 604.1,304.4 606.2,301.6 609.1,298.8 608.8,294.5 609.1,288.9 605.5,284.6 601.3,280.4 597.7,276.8 599.2,274.7 597.7,271.9Z" fill="#bdc9e1"/>
<path d="M458,226.3 460.8,227.5 463.7,226.7 467.5,227.5 470,229.7 473.3,232 477.5,232.5 481.7,230.3 485.8,230 490.8,231.3 494.2,233.3 495.8,237.5 495,241.7 496.7,245.8 500,250 499.2,253.3 501.7,255.8 503.3,259.2 500.8,262.5 496.7,262.5 492.5,260.8 489.2,258.3 485.8,259.7 482.5,258.3 478.3,255 475,251.7 470.8,249.2 467.5,245 464.2,241.7 462.5,237.5 460.8,233.3 459.2,230Z" fill="#045a8d"/>
<path d="M582.4,315 587,315.6 592,320 597,325 602,329 606,335 607.6,340 606.4,344.4 603,343 599,339 595,333 591,327 587,321.6 584,318Z" fill="#74a9cf"/>
<path d="M606,345.6 610,344.4 616,346 622,347.6 628,350 627,351.6 621,351 615,349.6 609,348.4Z" fill="#74a9cf"/>
<path d="M631,351 636,350.4 635.6,352.4 631.6,352.4Z" fill="#74a9cf"/>
<path d="M639,351 645.6,350.4 645,352.4 639.6,352.6Z" fill="#74a9cf"/>
<path d="M647,354 651,351.6 650,355 647,356Z" fill="#74a9cf"/>
<path d="M637,354 640,354.4 639,356Z" fill="#74a9cf"/>
<path d="M615,325 619,326 624,323 630,320 634,318 636,322 635,326 637,328 634,331 632,335 631,339 627,339.6 623,337.6 618,337 615.6,332 614,328Z" fill="#74a9cf"/>
<path d="M639,328 642,326 647,327 651.6,325 651,327 646,329 643,330 645,334 647,339 646,343 644,340 642.4,336 641,339 640.4,343.6 638.4,343 638,337 638.4,332Z" fill="#74a9cf"/>
<path d="M657,324 659,323.6 659.6,329 657.6,330Z" fill="#74a9cf"/>
<path d="M654,337 658,337.6 657.2,339 653.6,338.4Z" fill="#74a9cf"/>
<path d="M659,337 663,336.4 664.4,338.4 660,339Z" fill="#74a9cf"/>
<path d="M672,343 673.2,343 672.8,346.4 671.6,346Z" fill="#74a9cf"/>
<path d="M665,331 669,330 673,333 671,335 674,336 679,334 684,333.6 688.4,336 688,352 684,350 681,351 680,347 677,344 674,342 670,340 668,337 669,334 666,333Z" fill="#74a9cf"/>
<path d="M335,256 339,252 342,247 344,242 347,239 350,236 355,237 359.6,238 360,243 356,247 352,249 348,251 344,254 343,257Z" fill="#bdc9e1"/>
<path d="M447,294 450,291 455,291 459,295 463,300 468,305 473,309 468,314 462,318 455,319 450,319 447,315 444,310 441,305 444,299Z" fill="#bdc9e1"/>
<path d="M325.4,293.7 329.9,293.5 329.9,294.1 325.4,294.2Z" fill="#045a8d"/>
<path d="M399.6,404 402,405 407,404 409,396 412,397 415,394 419,395 424,391 429,386 433,387 434.4,392 437,394 436.4,399 434,405 430,411 426,415 420,417 413,418 407,419.6 403,418 402,412Z" fill="#bdc9e1"/>
<path d="M9.2,277.5 10.5,276.4 12,277.5 11.5,279 9.8,279.8Z" fill="#2b8cbe"/>
<path d="M5.2,272.4 7,273 9.5,274 9.8,275 7.5,274.6 5.5,273.4Z" fill="#2b8cbe"/>
<path d="M2,271.2 3.4,271 3,272Z" fill="#2b8cbe"/>
<path d="M203.6,377 206.4,382 209,388 210,398 208,407 209.2,416 210.4,424 212.4,436 215,448 218,458 224,464 226,469" fill="none"/>
<path d="M182,341 185,336 188,333 192,330 197,332 200,335 203,334 202,338 197,341 194,346 195,352 199,355 200,358 205,359 205,366" fill="none"/>
<path d="M205,358 204.4,368 203,376" fill="none"/>
<path d="M210,388 213,387 218,388 224,389 229,392 233,395 234,400 239,400 237,408" fill="none"/>
<path d="M241.6,396 240,402 237,408" fill="none"/>
<path d="M348.1,215.5 348.7,218.8 348.1,222.3 347.3,226.6 348,232" fill="none"/>
<path d="M529.2,233.3 530,237 534,240 537,245 541.1,251.3" fill="none"/>
<path d="M324.5,273.6 333.5,273.3 334.2,266.2 342.7,261.2 343.4,257" fill="none"/>
<path d="M359.6,238 360,243 356,247 352,249 348,251 344,254 343.6,257.6" fill="none"/>
<path d="M380,232 381.6,238 384,247 385,256 388,266" fill="none"/>
<path d="M381.6,238 384.4,247 388,243" fill="none"/>
<path d="M418,247 418.4,277" fill="none"/>
<path d="M418.4,271.4 448,271" fill="none"/>
<path d="M349,263.4 372.4,279" fill="none"/>
<path d="M336.3,288.9 337,295.9 343.4,297.4 344.8,300.9 349,301.6 351.2,299.5 353.3,295.2 356.8,293.1 360.4,289.6 363.9,291" fill="none"/>
<path d="M351.2,299.5 351.9,302.3 355.4,303 356.1,300.6 361.1,300.6 365.3,300.2 368.9,298.1" fill="none"/>
<path d="M356.1,300.6 355.4,308 356.1,315.8" fill="none"/>
<path d="M361.1,300.6 363.2,306.6 363.9,313.4" fill="none"/>
<path d="M365.3,300.2 366.7,312.9" fill="none"/>
<path d="M369.6,306.6 369.6,312.9" fill="none"/>
<path d="M345.5,312.2 344.8,306.6 344.8,300.9" fill="none"/>
<path d="M326.4,286 329.9,288.9 334.2,290.3 337,295.9" fill="none"/>
<path d="M325,295.9 329.9,296.7 334.2,299.5 336.3,304.4" fill="none"/>
<path d="M392,324 394,330 390,334 392,339 396,342" fill="none"/>
<path d="M399,324 405,323 408,318 415,316 422,318 429,317" fill="none"/>
<path d="M405,323 404,330 400,338 396,342 394,348" fill="none"/>
<path d="M434,319 432,326 433,332 430,338 431,346" fill="none"/>
<path d="M433,332 442,332 450,342" fill="none"/>
<path d="M444,318 443,324 442,332" fill="none"/>
<path d="M430,330 431,338 430,344 433,351" fill="none"/>
<path d="M433,334 438,332 449,336 453,342" fill="none"/>
<path d="M411,376.4 410,386 409,396" fill="none"/>
<path d="M411,376.4 417,374.4" fill="none"/>
<path d="M477.5,222.5 482.5,220 486.7,221.7 491.7,225 495.8,228.3 500.8,230.8 505,232.5" fill="none" stroke="#bdbdbd" stroke-opacity="1"/>
<path d="M494.2,233.3 498.3,234.2 502.5,232.5 505,232.5 510,230.8 515,231.7 520,230 524.2,230.8 526.7,230.8" fill="none" stroke="#bdbdbd" stroke-opacity="1"/>
<path d="M500,250 505,249.2 510,246.7 513.3,242.5 517.5,240 520,235.8 525,233.3 528.3,234.2" fill="none" stroke="#bdbdbd" stroke-opacity="1"/>
<path d="M510,225 513.3,227.5 516.7,226.7 520,228.3 524.2,229.2" fill="none" stroke="#bdbdbd" stroke-opacity="1"/>
<path d="M423,406 426,404 428,406 425.6,408.6Z" fill="url(#hatch)" stroke="#bdbdbd"/>
<path d="M432.4,397 434.4,396.4 435,399 433,400Z" fill="url(#hatch)" stroke="#bdbdbd"/>
</g>
<g id="legend" font-size="13" fill="#5b5b5b">
<text x="268.5" y="530" text-anchor="middle">No data</text>
<line x1="268.5" y1="533" x2="268.5" y2="537" stroke="#999" stroke-width="1"/>
<rect x="244.5" y="537.5" width="48" height="10.5" fill="url(#hatch)" stroke="#ccc" stroke-width="1"/>
<rect x="312" y="537.5" width="58.6" height="10.5" fill="#f1eef6"/>
<rect x="370.6" y="537.5" width="58.6" height="10.5" fill="#bdc9e1"/>
<rect x="429.2" y="537.5" width="58.6" height="10.5" fill="#74a9cf"/>
<rect x="487.8" y="537.5" width="58.6" height="10.5" fill="#2b8cbe"/>
<path d="M546.4 537.5H600L605.4 542.75L600 548H546.4Z" fill="#045a8d"/>
<path d="M312 537.5H600L605.4 542.75L600 548H312Z" fill="none" stroke="#aaa" stroke-width="0.6"/>
<g stroke="#999" stroke-width="1">
<line x1="312.5" y1="533" x2="312.5" y2="548" stroke="#ccc"/>
<line x1="370.6" y1="533" x2="370.6" y2="548"/>
<line x1="429.2" y1="533" x2="429.2" y2="548"/>
<line x1="487.8" y1="533" x2="487.8" y2="548"/>
<line x1="546.4" y1="533" x2="546.4" y2="548"/>
</g>
<text x="312.5" y="530" text-anchor="middle">0</text>
<text x="370.6" y="530" text-anchor="middle">2</text>
<text x="429.2" y="530" text-anchor="middle">5</text>
<text x="487.8" y="530" text-anchor="middle">10</text>
<text x="546.4" y="530" text-anchor="middle">20</text>
</g>
</svg>
<div id="footer-l"><b style="letter-spacing:-0.48px">Data source:</b> Food and Agriculture Organization of the United Nations</div>
<div id="footer-r">OurWorldinData.org/biodiversity | CC BY</div>
</body>
</html>
